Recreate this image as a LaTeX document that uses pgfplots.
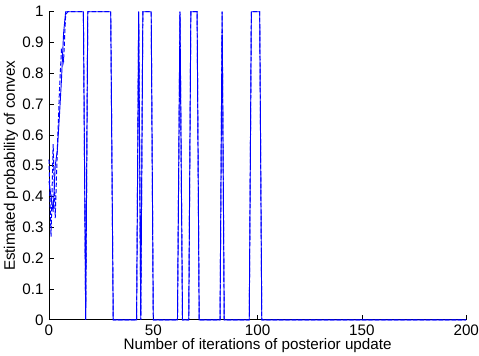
\documentclass[border=0pt]{standalone}
\usepackage{pgfplots}
\pgfplotsset{compat=1.18}
\usepackage{fontspec}
\setmainfont{Liberation Sans}
\begin{document}
\begin{tikzpicture}
\useasboundingbox (0,0) rectangle (315pt,234pt);
\begin{axis}[
  at={(32.2pt,23.7pt)}, anchor=south west,
  scale only axis, width=274.4pt, height=202.6pt,
  xmin=0, xmax=200, ymin=0, ymax=1,
  axis x line*=bottom, axis y line*=left,
  axis line style={-, black, line width=0.5pt},
  tick align=inside, major tick length=3pt,
  tick style={black, line width=0.5pt},
  xtick={0,50,100,150,200},
  ytick={0,0.1,0.2,0.3,0.4,0.5,0.6,0.7,0.8,0.9,1},
  yticklabels={0,0.1,0.2,0.3,0.4,0.5,0.6,0.7,0.8,0.9,1},
  /pgf/number format/assume math mode=true,
  tick label style={font=\fontsize{10}{12}\selectfont},
  label style={font=\fontsize{10}{12}\selectfont},
  xlabel={Number of iterations of posterior update},
  ylabel={Estimated probability of convex},
  xlabel style={yshift=5.5pt},
  ylabel style={yshift=-4pt},
  clip=false,
]
\addplot[blue, line width=0.65pt, dash pattern=on 2.8pt off 1.4pt] coordinates {
(0,0.52) (1,0.27) (2,0.57) (3,0.33) (4,0.55) (5,0.74) (6,0.88) (7,0.84) (8,0.99) (9,1)
(16.5,1) (17.6,0) (18.6,1) (29.6,1) (30.8,0) (42,0) (43,1) (44,0) (45,1) (49,1) (50,0)
(61.6,0) (62.8,1) (64,0) (67,0) (68,1) (71,1) (72,0) (82,0) (83,1) (84,0)
(96,0) (97,1) (101,1) (102,0) (200,0)
};
\addplot[blue, line width=0.6pt] coordinates {
(0,0.45) (1,0.40) (2,0.35) (3,0.50) (4,0.55) (5,0.66) (6,0.78) (7,0.93) (8,1)
(16.5,1) (17.6,0) (18.6,1) (29.6,1) (30.8,0) (42,0) (43,1) (44,0) (45,1) (49,1) (50,0)
(61.6,0) (62.8,1) (64,0) (67,0) (68,1) (71,1) (72,0) (82,0) (83,1) (84,0)
(96,0) (97,1) (101,1) (102,0) (200,0)
};
\end{axis}
\end{tikzpicture}
\end{document}
